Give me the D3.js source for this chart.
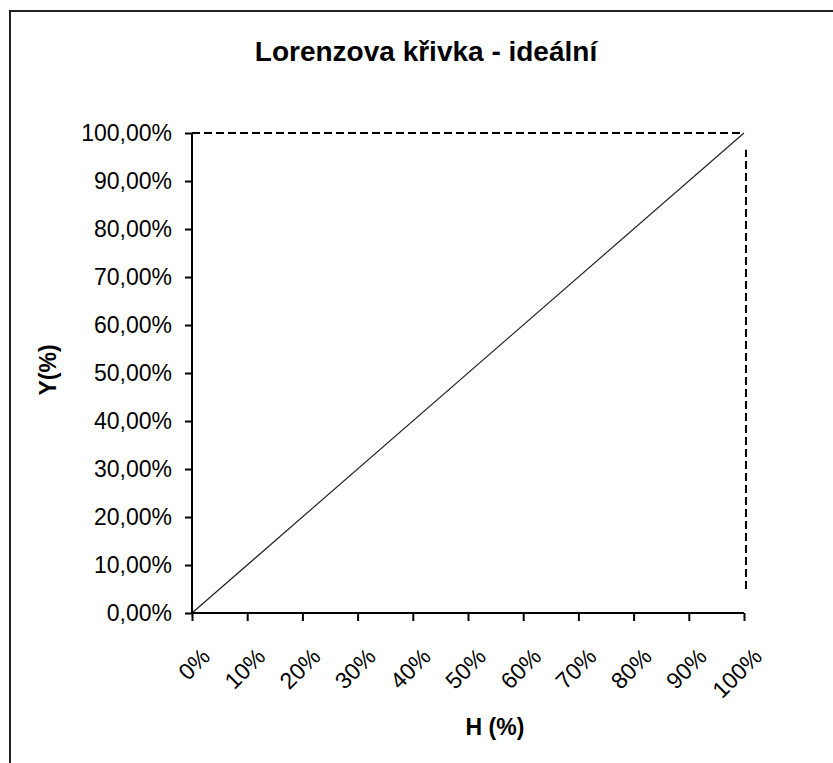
<!DOCTYPE html>
<html>
<head>
<meta charset="utf-8">
<script src="https://cdn.jsdelivr.net/npm/d3@7"></script>
<style>
  html, body { margin: 0; padding: 0; background: #fff; }
  text { font-family: "Liberation Sans", Arial, sans-serif; fill: #000; }
</style>
</head>
<body>
<svg id="chart" width="833" height="763"></svg>
<script>
// ---- data ----
const chartTitle = "Lorenzova křivka - ideální";
const xTitle = "H (%)";
const yTitle = "Y(%)";
const xTickValues = [0, 10, 20, 30, 40, 50, 60, 70, 80, 90, 100];
const yTickValues = [0, 10, 20, 30, 40, 50, 60, 70, 80, 90, 100];
// ideal Lorenz curve (line of equality)
const lorenzH = [0, 100];
const lorenzY = [0, 100];
// dashed guide lines
const topGuideH = [0, 100];
const topGuideY = [100, 100];
const rightGuideH = [100, 100];
const rightGuideY = [5, 96.5];

// ---- layout ----
const svg = d3.select("#chart");
const plot = { left: 192, right: 744, top: 133, bottom: 613 };

const x = d3.scaleLinear().domain([0, 100]).range([plot.left, plot.right]);
const y = d3.scaleLinear().domain([0, 100]).range([plot.bottom, plot.top]);

// outer frame (only top and left visible in the reference)
svg.append("rect")
  .attr("x", 10).attr("y", 11)
  .attr("width", 900).attr("height", 900)
  .attr("fill", "none").attr("stroke", "#222").attr("stroke-width", 2);

// title
svg.append("text")
  .attr("x", 426).attr("y", 61)
  .attr("text-anchor", "middle")
  .attr("font-size", 28).attr("font-weight", "bold")
  .text(chartTitle);

const lineGen = d3.line().x(d => x(d[0])).y(d => y(d[1]));
const pairs = (a, b) => a.map((v, i) => [v, b[i]]);

// dashed guides
svg.append("path")
  .datum(pairs(topGuideH, topGuideY))
  .attr("d", lineGen)
  .attr("fill", "none").attr("stroke", "#000").attr("stroke-width", 2)
  .attr("stroke-dasharray", "8,4");
svg.append("path")
  .datum(pairs(rightGuideH, rightGuideY))
  .attr("d", lineGen)
  .attr("transform", "translate(2,0)")
  .attr("fill", "none").attr("stroke", "#000").attr("stroke-width", 2)
  .attr("stroke-dasharray", "8,4");

// ideal curve
svg.append("path")
  .datum(pairs(lorenzH, lorenzY))
  .attr("d", lineGen)
  .attr("fill", "none").attr("stroke", "#222").attr("stroke-width", 1.2);

// y axis
const yAxis = d3.axisLeft(y)
  .tickValues(yTickValues)
  .tickSize(7)
  .tickPadding(13)
  .tickFormat(d => d.toFixed(2).replace(".", ",") + "%");
const gy = svg.append("g").attr("transform", `translate(${plot.left},0)`).call(yAxis);
gy.select(".domain").attr("stroke", "#000").attr("stroke-width", 2).attr("d", `M0,${plot.bottom}V${plot.top}`);
gy.selectAll(".tick line").attr("stroke", "#000").attr("stroke-width", 2);
gy.selectAll(".tick text")
  .attr("font-size", 23)
  .attr("font-family", "Liberation Sans, Arial, sans-serif")
  .attr("fill", "#000");

// x axis
const xAxis = d3.axisBottom(x)
  .tickValues(xTickValues)
  .tickSize(8)
  .tickFormat(d => d + "%");
const gx = svg.append("g").attr("transform", `translate(0,${plot.bottom})`).call(xAxis);
gx.select(".domain").attr("stroke", "#000").attr("stroke-width", 2).attr("d", `M${plot.left},0H${plot.right}`);
gx.selectAll(".tick line").attr("stroke", "#000").attr("stroke-width", 2);
gx.selectAll(".tick text")
  .attr("font-size", 23)
  .attr("font-family", "Liberation Sans, Arial, sans-serif")
  .attr("fill", "#000")
  .attr("text-anchor", "end")
  .attr("dy", null)
  .attr("y", 0)
  .attr("transform", "translate(19,45) rotate(-45)");

// axis titles
svg.append("text")
  .attr("x", 495).attr("y", 735)
  .attr("text-anchor", "middle")
  .attr("font-size", 23).attr("font-weight", "bold")
  .text(xTitle);

svg.append("text")
  .attr("transform", "translate(56,370) rotate(-90)")
  .attr("text-anchor", "middle")
  .attr("font-size", 23).attr("font-weight", "bold")
  .text(yTitle);
</script>
</body>
</html>
